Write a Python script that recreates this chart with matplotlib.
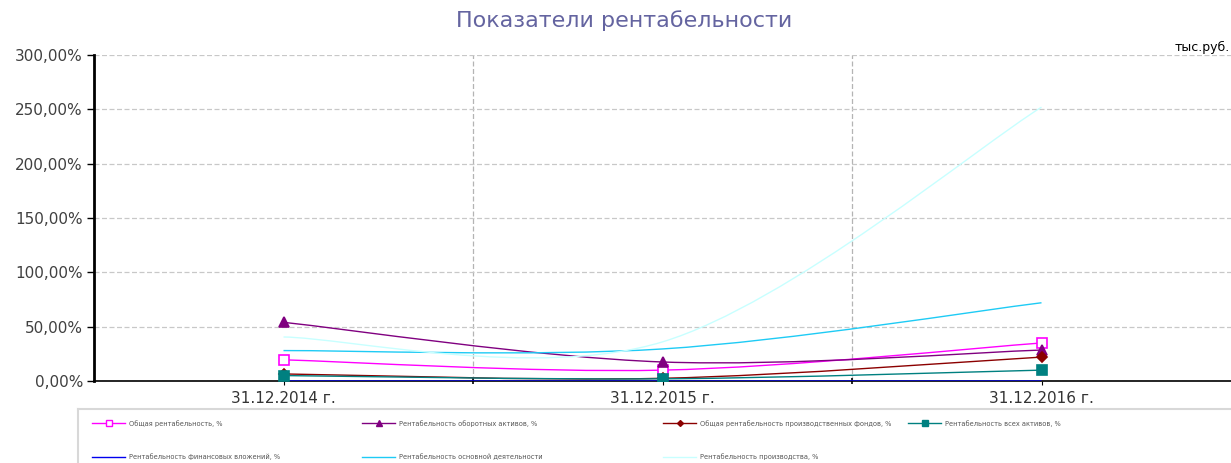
import numpy as np
import matplotlib
matplotlib.use("Agg")
import matplotlib.pyplot as plt
from matplotlib.path import Path
from matplotlib.patches import PathPatch
from matplotlib.lines import Line2D

plt.rcParams['font.family'] = ['DejaVu Sans']

# данные
dates = ["31.12.2014 г.", "31.12.2015 г.", "31.12.2016 г."]
obshaya = [19.5, 10.0, 35.0]
oborotnye = [54.0, 17.5, 28.5]
proizv_fondy = [6.5, 2.5, 22.0]
vse_aktivy = [5.0, 2.0, 10.0]
fin_vlozheniya = [0.0, 0.0, 0.0]
osnovnaya = [28.0, 29.5, 72.0]
proizvodstvo = [40.5, 36.0, 252.0]

names = ["Общая рентабельность, %",
         "Рентабельность оборотных активов, %",
         "Общая рентабельность производственных фондов, %",
         "Рентабельность всех активов, %",
         "Рентабельность финансовых вложений, %",
         "Рентабельность основной деятельности",
         "Рентабельность производства, %"]
series = [obshaya, oborotnye, proizv_fondy, vse_aktivy, fin_vlozheniya, osnovnaya, proizvodstvo]
colors = ["#ff00ff", "#800080", "#8b0000", "#008080", "#0000ee", "#1ecbf5", "#c8ffff"]
markers = ["s", "^", "D", "s", None, None, None]
mfc = ["white", "#800080", "#8b0000", "#008080", None, None, None]
msizes = [7, 7, 5, 7.5, 0, 0, 0]


def smooth_path(x, y):
    # кривые Безье через точки (как сглаженная линия в Excel)
    pts = np.column_stack([x, y]).astype(float)
    n = len(pts)
    verts = [pts[0]]
    codes = [Path.MOVETO]
    for i in range(n - 1):
        p0 = pts[i - 1] if i > 0 else pts[i]
        p1 = pts[i]
        p2 = pts[i + 1]
        p3 = pts[i + 2] if i + 2 < n else pts[i + 1]
        c1 = p1 + (p2 - p0) / 6
        c2 = p2 - (p3 - p1) / 6
        verts += [c1, c2, p2]
        codes += [Path.CURVE4] * 3
    return Path(verts, codes)


fig = plt.figure(figsize=(12.31, 4.63), dpi=100)
ax = fig.add_axes([94 / 1231, 82 / 463, 1137 / 1231, 326 / 463])

xs = np.arange(len(dates))
handles = []
for vals, c, m, fc, ms in zip(series, colors, markers, mfc, msizes):
    patch = PathPatch(smooth_path(xs, vals), fill=False, edgecolor=c, lw=1.0, zorder=3)
    ax.add_patch(patch)
    if m is not None:
        ax.plot(xs, vals, ls="none", marker=m, ms=ms, mfc=fc, mec=c, mew=1.2, zorder=4)
    handles.append(Line2D([], [], color=c, lw=1.0, marker=m, ms=ms * 0.6,
                          mfc=fc, mec=c))

ax.set_xlim(-0.5, 2.5)
ax.set_ylim(0, 300)
ax.set_yticks(np.arange(0, 301, 50))
ax.set_yticklabels([f"{v},00%" for v in range(0, 301, 50)], fontsize=11, color="#404040")
ax.set_xticks(xs)
ax.set_xticklabels(dates, fontsize=11, color="#333333")
ax.set_xticks([0.5, 1.5], minor=True)
ax.tick_params(axis="x", which="major", length=3, pad=4)
ax.tick_params(axis="x", which="minor", length=4, width=1.2, direction="inout")
ax.tick_params(axis="y", length=5, width=1, pad=3)

ax.grid(axis="y", ls=(0, (4, 2)), color="#c8c8c8", lw=0.9)
ax.grid(axis="x", which="minor", ls=(0, (4, 2)), color="#b4b4b4", lw=0.9)
ax.set_axisbelow(True)
for s in ["top", "right"]:
    ax.spines[s].set_visible(False)
ax.spines["left"].set_linewidth(2)
ax.spines["bottom"].set_linewidth(1.2)

fig.text(624 / 1231, 0.955, "Показатели рентабельности", ha="center", va="center",
         fontsize=16, color="#6464a0")
fig.text(0.999, 0.897, "тыс.руб.", ha="right", va="center", fontsize=9, color="black")

# рамка легенды
fig.add_artist(Line2D([78 / 1231, 78 / 1231], [0, 54 / 463], color="#d8d8d8", lw=1.5))
fig.add_artist(Line2D([78 / 1231, 1], [54 / 463, 54 / 463], color="#d8d8d8", lw=1.5))

col_x = [92, 362, 663, 908]
for j in range(4):
    hs = [handles[j]] + ([handles[j + 4]] if j + 4 < len(handles) else [])
    ls_ = [names[j]] + ([names[j + 4]] if j + 4 < len(names) else [])
    leg = fig.legend(hs, ls_, loc="upper left",
                     bbox_to_anchor=(col_x[j] / 1231, 43 / 463),
                     frameon=False, fontsize=4.8, handlelength=5,
                     handletextpad=0.6, labelspacing=4.0, borderpad=0,
                     borderaxespad=0)
    for t in leg.get_texts():
        t.set_color("#555555")

fig.savefig("out.png", dpi=100)
